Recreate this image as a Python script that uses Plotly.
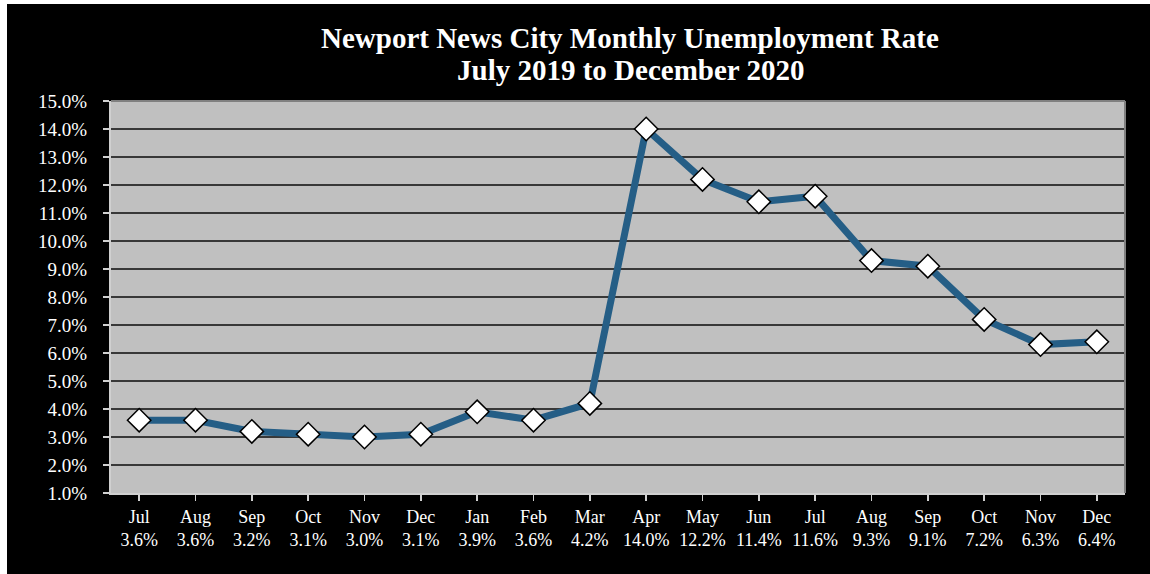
import plotly.graph_objects as go

months = ["Jul", "Aug", "Sep", "Oct", "Nov", "Dec", "Jan", "Feb", "Mar",
          "Apr", "May", "Jun", "Jul", "Aug", "Sep", "Oct", "Nov", "Dec"]
rates = [3.6, 3.6, 3.2, 3.1, 3.0, 3.1, 3.9, 3.6, 4.2,
         14.0, 12.2, 11.4, 11.6, 9.3, 9.1, 7.2, 6.3, 6.4]
y_ticks = [1, 2, 3, 4, 5, 6, 7, 8, 9, 10, 11, 12, 13, 14, 15]
title_lines = ["Newport News City Monthly Unemployment Rate",
               "July 2019 to December 2020"]

cat_labels = [f"{m}<br>{r:.1f}%" for m, r in zip(months, rates)]
x_idx = list(range(len(months)))

W, H = 1150, 574
L, R, T, B = 111, 25, 101, 81
pw, ph = W - L - R, H - T - B

def px_x(p):
    return (p - L) / pw

def px_y(p):
    return (H - B - p) / ph

fig = go.Figure()
fig.add_trace(go.Scatter(
    x=x_idx, y=rates, mode="lines+markers",
    line=dict(color="#255E86", width=7),
    marker=dict(symbol="diamond", size=18, color="white",
                line=dict(color="black", width=1.5)),
    hoverinfo="skip", showlegend=False,
))

serif = "Liberation Serif, Times New Roman, serif"

annotations = []
for text, yc in zip(title_lines, [38, 70]):
    annotations.append(dict(
        text=f"<b>{text}</b>", xref="paper", yref="paper",
        x=px_x(630), y=px_y(yc), xanchor="center", yanchor="middle",
        showarrow=False, font=dict(family=serif, size=29, color="white"),
    ))

fig.update_layout(
    width=W, height=H,
    margin=dict(l=L, r=R, t=T, b=B, pad=0),
    paper_bgcolor="black",
    plot_bgcolor="#C0C0C0",
    font=dict(family=serif, color="white", size=18),
    annotations=annotations,
    xaxis=dict(
        tickmode="array", tickvals=x_idx, ticktext=cat_labels,
        range=[-0.5, len(months) - 0.5],
        showgrid=False, zeroline=False,
        showline=True, linecolor="#D0D0D0", linewidth=2,
        ticks="outside", ticklen=6, tickcolor="#D0D0D0", tickwidth=1.5,
        tickson="boundaries",
        tickfont=dict(family=serif, size=18, color="white"),
    ),
    yaxis=dict(
        range=[1, 15], tickmode="array", tickvals=y_ticks,
        ticktext=[f"{v:.1f}%" for v in y_ticks],
        showgrid=True, gridcolor="#383838", gridwidth=1.5,
        zeroline=False,
        showline=True, linecolor="#D0D0D0", linewidth=2,
        ticks="outside", ticklen=6, tickcolor="#D0D0D0", tickwidth=1.5,
        ticklabelstandoff=12,
        tickfont=dict(family=serif, size=19, color="white"),
    ),
    shapes=[
        # white margin strips at left and top of the image
        dict(type="rect", xref="paper", yref="paper",
             x0=px_x(-5), x1=px_x(7), y0=px_y(H + 5), y1=px_y(-5),
             fillcolor="white", line=dict(width=0), layer="above"),
        dict(type="rect", xref="paper", yref="paper",
             x0=px_x(-5), x1=px_x(W + 5), y0=px_y(4), y1=px_y(-5),
             fillcolor="white", line=dict(width=0), layer="above"),
        # plot area border top and right
        dict(type="line", xref="paper", yref="paper", x0=0, x1=1, y0=1, y1=1,
             line=dict(color="#808080", width=2), layer="above"),
        dict(type="line", xref="paper", yref="paper", x0=1, x1=1, y0=0, y1=1,
             line=dict(color="#808080", width=2), layer="above"),
    ],
)

fig.write_html(
    "out.html",
    config={"displayModeBar": False, "staticPlot": True},
    post_script="document.body.style.margin='0';document.body.style.overflow='hidden';",
)
